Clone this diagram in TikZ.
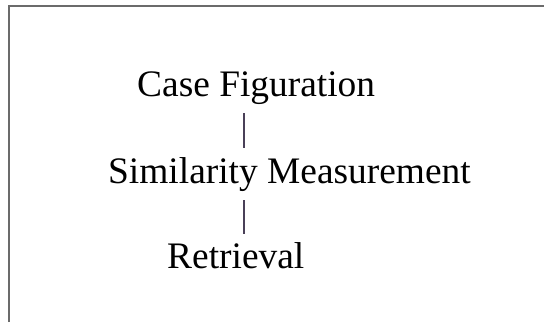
\documentclass[tikz,border=0pt]{standalone}
\usepackage{fontspec}
\setmainfont{Liberation Serif}
\definecolor{stemcol}{HTML}{4A4058}
\begin{document}
\begin{tikzpicture}[x=1pt,y=1pt,
  label/.style={anchor=base west,inner sep=0pt,font=\fontsize{37.4}{44}\selectfont},
  stem/.style={draw=stemcol,line width=1.3pt},
  frame/.style={draw=black!58,line width=1.6pt}]
  \useasboundingbox (0,0) rectangle (544,-322);
  \fill[white] (0,0) rectangle (544,-322);
  % open frame: top edge and left edge
  \draw[frame] (9,-322) -- (9,-6) -- (544,-6);
  % the three stages
  \node[label] (cf) at (137,-96) {Case Figuration};
  \node[label] (sm) at (108,-183) {Similarity Measurement};
  \node[label] (rt) at (167,-268) {Retrieval};
  % short vertical links between the stages
  \coordinate (a1) at (cf.base -| 244,0);
  \coordinate (a2) at (sm.base -| 244,0);
  \coordinate (a3) at (rt.base -| 244,0);
  \draw[stem] ([yshift=-17]a1) -- ([yshift=35]a2);
  \draw[stem] ([yshift=-17]a2) -- ([yshift=34]a3);
\end{tikzpicture}
\end{document}
